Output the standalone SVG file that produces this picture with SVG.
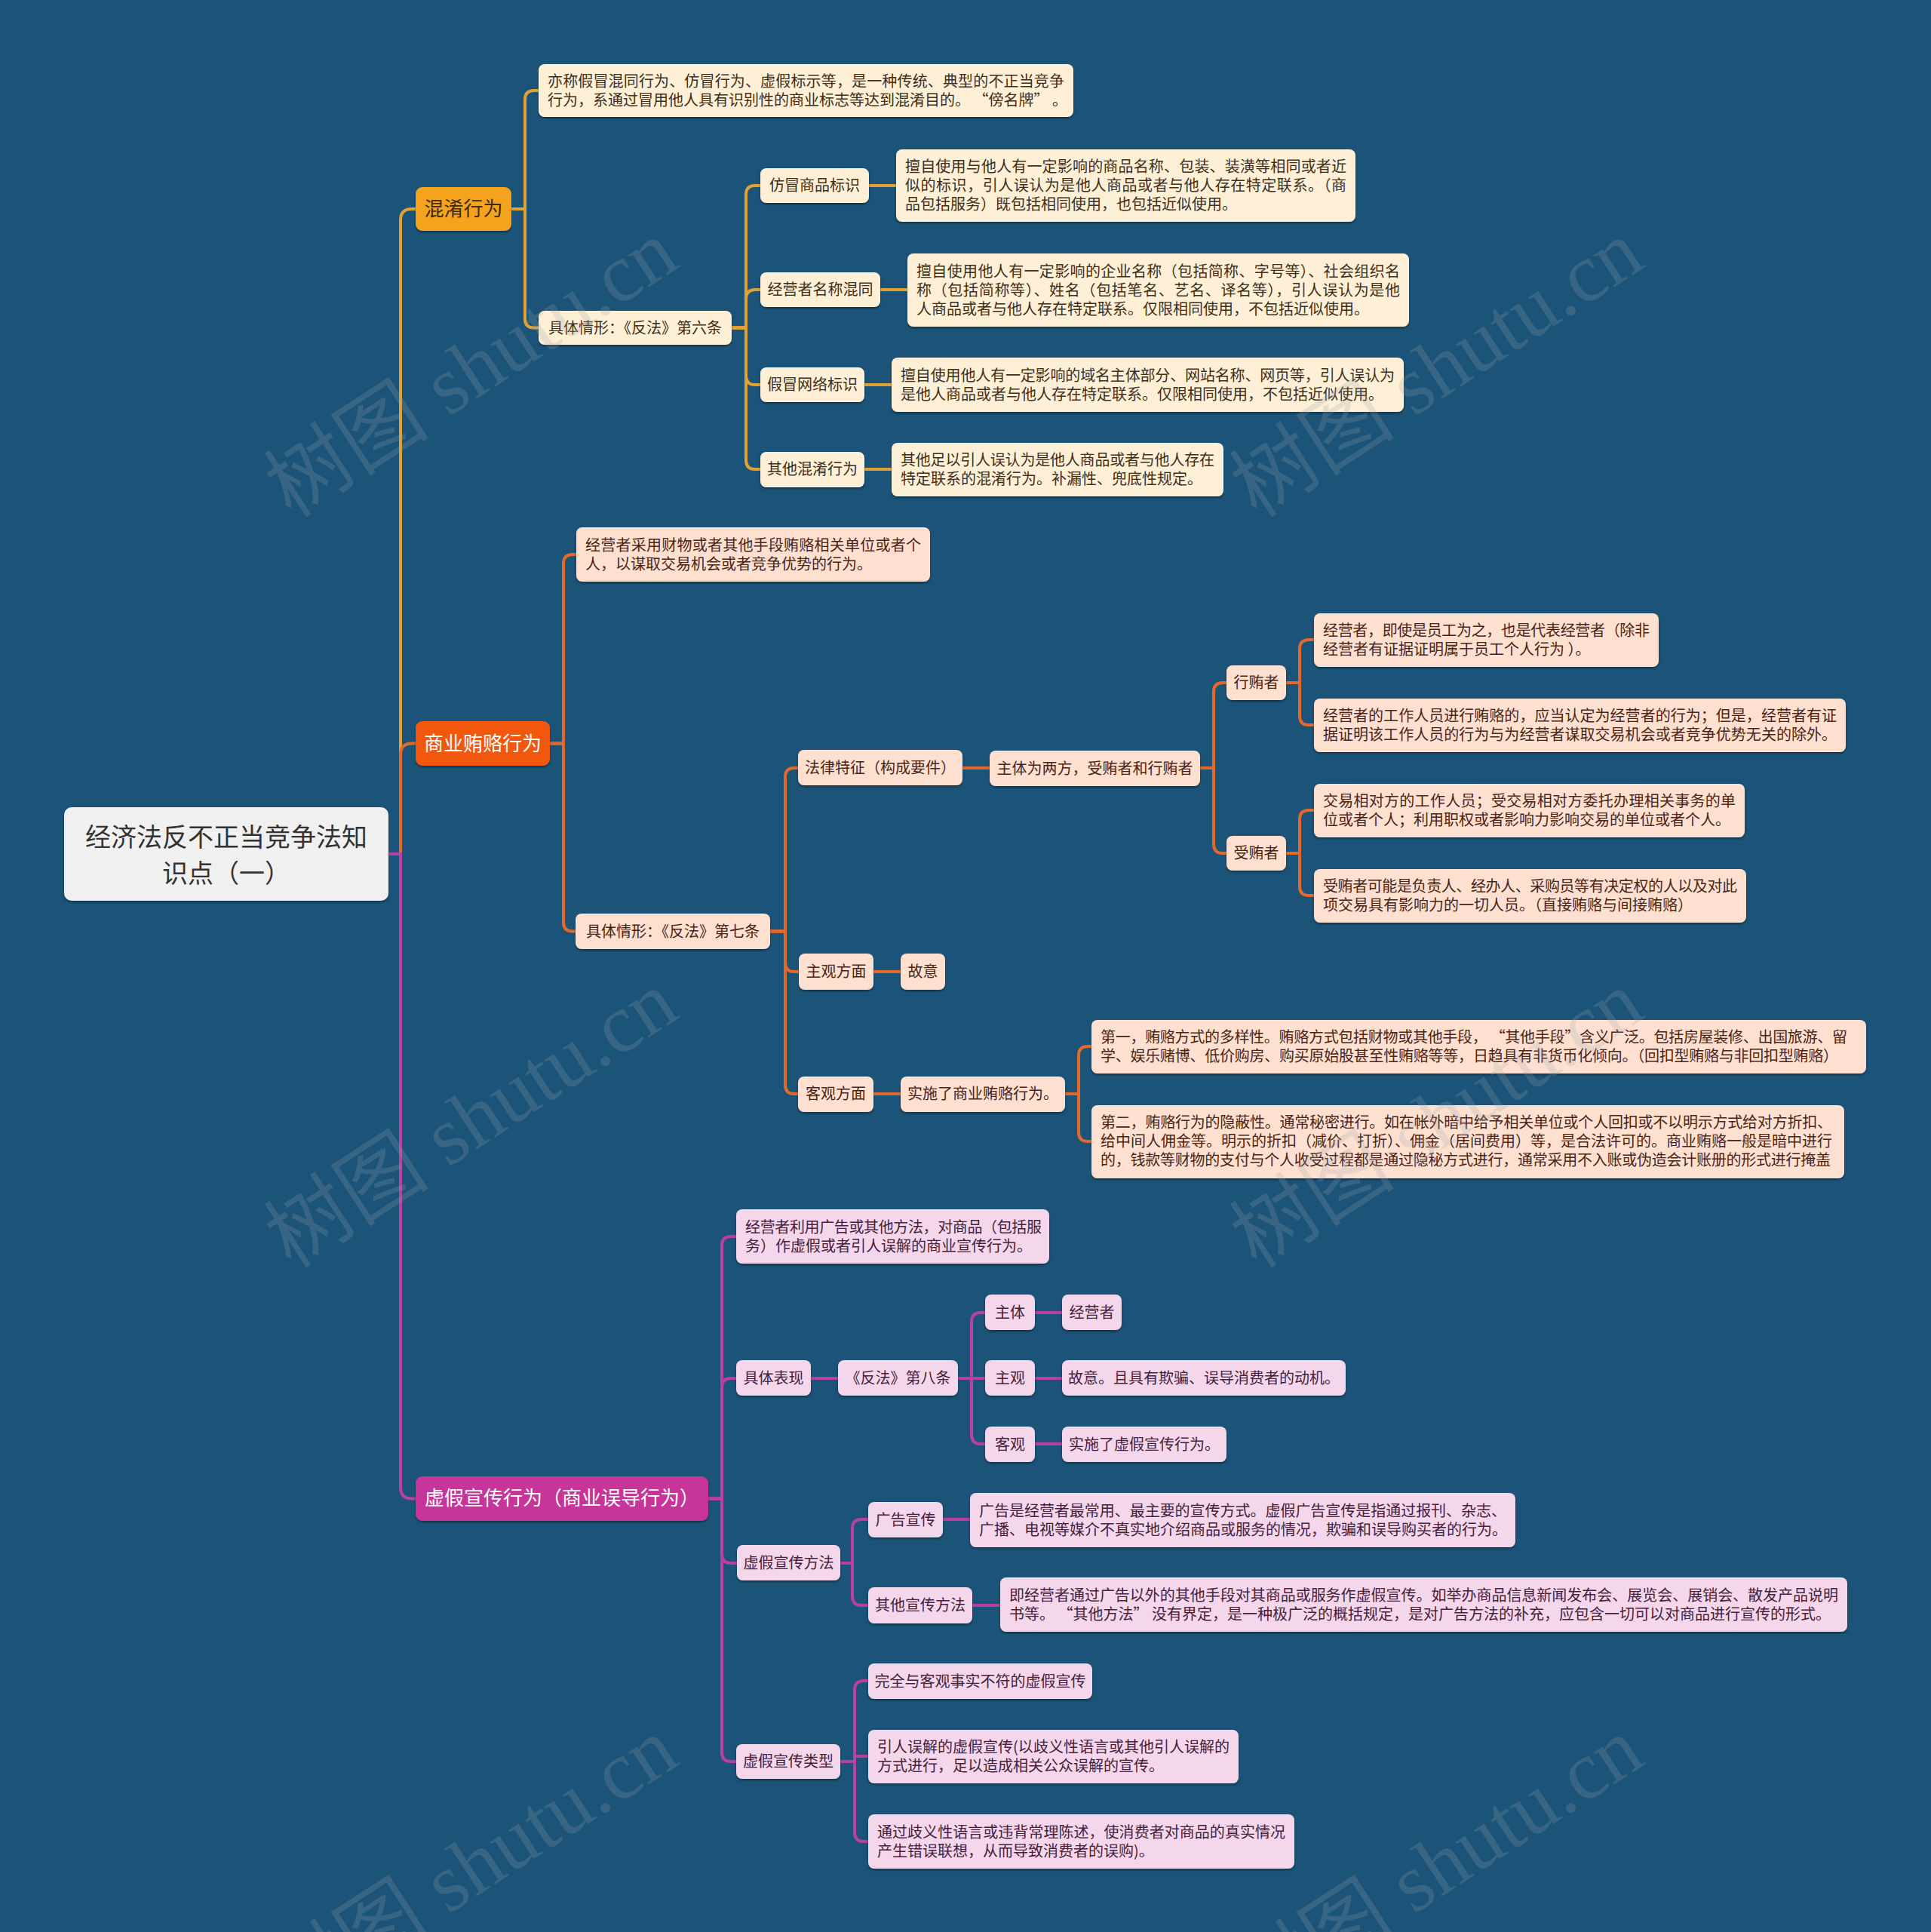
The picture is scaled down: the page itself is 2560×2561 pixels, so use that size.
<svg xmlns="http://www.w3.org/2000/svg" width="2560" height="2561" viewBox="0 0 2560 2561">
<defs>
<filter id="sh" x="-5%" y="-15%" width="110%" height="140%"><feDropShadow dx="0" dy="2" stdDeviation="1.5" flood-color="#000" flood-opacity="0.4"/></filter>
<style>
text{font-family:"Noto Sans CJK SC","Noto Sans",sans-serif;}
.n rect{filter:url(#sh);}
.t{font-size:20px;}
.m{text-anchor:middle;}
.y rect{fill:#fdf0d6;} .y text{fill:#3f2e1a;}
.o rect{fill:#fde0cf;} .o text{fill:#4a2417;}
.p rect{fill:#f4d7ea;} .p text{fill:#46203c;}
.conn path{fill:none;stroke-width:4;stroke-linecap:round;}
.cy{stroke:#e2a233;} .co{stroke:#e2692b;} .cp{stroke:#b8409f;}
.main{font-size:26px;}
.wm text{font-family:"Liberation Serif","Noto Sans CJK SC",serif;font-size:110px;fill:#9aa3ab;fill-opacity:0.22;text-anchor:middle;}
</style>
</defs>
<rect width="2560" height="2561" fill="#1b5478"/>

<g id="connectors" class="conn">
<g class="cy">
<path d="M515 1132 H531 V292 Q531 277 546 277 H551" stroke-width="5"/>
<path d="M678 277 H696 V132 Q696 120 708 120 H714"/>
<path d="M678 277 H696 V422.5 Q696 434.5 708 434.5 H714"/>
<path d="M970 434.5 H989 V258 Q989 246 1001 246 H1008"/>
<path d="M970 434.5 H989 V396 Q989 384 1001 384 H1008"/>
<path d="M970 434.5 H989 V498 Q989 510 1001 510 H1008"/>
<path d="M970 434.5 H989 V610 Q989 622 1001 622 H1008"/>
<path d="M1152 246 H1188"/>
<path d="M1167 384 H1203"/>
<path d="M1146 510 H1182"/>
<path d="M1146 622 H1182"/>
</g>
<g class="co">
<path d="M515 1132 H531 V1000.5 Q531 985.5 546 985.5 H551" stroke-width="5"/>
<path d="M729 985.5 H747 V747 Q747 735 759 735 H764"/>
<path d="M729 985.5 H747 V1222.5 Q747 1234.5 759 1234.5 H763"/>
<path d="M1021 1234.5 H1041 V1030 Q1041 1018 1053 1018 H1058"/>
<path d="M1021 1234.5 H1041 V1276 Q1041 1288 1053 1288 H1059"/>
<path d="M1021 1234.5 H1041 V1438 Q1041 1450 1053 1450 H1058"/>
<path d="M1276 1018 H1312"/>
<path d="M1591 1018 H1609 V917 Q1609 905 1621 905 H1626"/>
<path d="M1591 1018 H1609 V1119 Q1609 1131 1621 1131 H1626"/>
<path d="M1705 905 H1723 V860 Q1723 848 1735 848 H1742"/>
<path d="M1705 905 H1723 V949 Q1723 961 1735 961 H1742"/>
<path d="M1705 1131 H1723 V1086 Q1723 1074 1735 1074 H1742"/>
<path d="M1705 1131 H1723 V1175 Q1723 1187 1735 1187 H1742"/>
<path d="M1158 1288 H1194"/>
<path d="M1158 1450 H1194"/>
<path d="M1412 1450 H1430 V1399 Q1430 1387 1442 1387 H1447"/>
<path d="M1412 1450 H1430 V1501 Q1430 1513 1442 1513 H1447"/>
</g>
<g class="cp">
<path d="M515 1132 H531 V1971.5 Q531 1986.5 546 1986.5 H551" stroke-width="5"/>
<path d="M939 1986.5 H957 V1651 Q957 1639 969 1639 H976"/>
<path d="M939 1986.5 H957 V1839 Q957 1827 969 1827 H976"/>
<path d="M939 1986.5 H957 V2060 Q957 2072 969 2072 H977"/>
<path d="M939 1986.5 H957 V2323 Q957 2335 969 2335 H976"/>
<path d="M1075 1827 H1111"/>
<path d="M1270 1827 H1288 V1752 Q1288 1740 1300 1740 H1306"/>
<path d="M1270 1827 H1306"/>
<path d="M1270 1827 H1288 V1902 Q1288 1914 1300 1914 H1306"/>
<path d="M1372 1740 H1408"/>
<path d="M1372 1827 H1408"/>
<path d="M1372 1914 H1408"/>
<path d="M1114 2072 H1130 V2026 Q1130 2014 1142 2014 H1151"/>
<path d="M1114 2072 H1130 V2116 Q1130 2128 1142 2128 H1151"/>
<path d="M1250 2014 H1286"/>
<path d="M1289 2128 H1326"/>
<path d="M1114 2335 H1133 V2240 Q1133 2228 1145 2228 H1151"/>
<path d="M1114 2335 H1133 V2328 H1151"/>
<path d="M1114 2335 H1133 V2429 Q1133 2441 1145 2441 H1151"/>
</g>
</g>

<g id="root" class="n"><rect x="85" y="1070" width="430" height="124" rx="10" fill="#f0f0f0"/>
<text x="300" y="1122" font-size="34" text-anchor="middle" fill="#333">经济法反不正当竞争法知</text>
<text x="300" y="1170" font-size="34" text-anchor="middle" fill="#333">识点（一）</text></g>

<g id="m1" class="n"><rect x="551" y="248" width="127" height="58" rx="9" fill="#f5a31f"/><text class="main m" x="614.5" y="286" fill="#3b2a10">混淆行为</text></g>
<g id="m2" class="n"><rect x="551" y="956" width="178" height="59" rx="9" fill="#f2590c"/><text class="main m" x="640" y="995" fill="#fff">商业贿赂行为</text></g>
<g id="m3" class="n"><rect x="551" y="1957" width="388" height="59" rx="9" fill="#c8369a"/><text class="main m" x="745" y="1995" fill="#fff">虚假宣传行为（商业误导行为）</text></g>

<g class="y t">
<g id="a1" class="n"><rect x="714" y="85" width="709" height="70" rx="8"/>
<text x="726" y="114.5" textLength="685">亦称假冒混同行为、仿冒行为、虚假标示等，是一种传统、典型的不正当竞争</text>
<text x="726" y="139.5">行为，系通过冒用他人具有识别性的商业标志等达到混淆目的。 “傍名牌” 。</text></g>
<g id="a2" class="n"><rect x="714" y="412" width="256" height="45" rx="8"/><text class="m" x="842" y="441.5">具体情形：《反法》第六条</text></g>
<g id="b1" class="n"><rect x="1008" y="223" width="144" height="46" rx="8"/><text class="m" x="1080" y="253">仿冒商品标识</text></g>
<g id="b1c" class="n"><rect x="1188" y="198" width="609" height="96" rx="8"/>
<text x="1200" y="228" textLength="585">擅自使用与他人有一定影响的商品名称、包装、装潢等相同或者近</text>
<text x="1200" y="253" textLength="585">似的标识，引人误认为是他人商品或者与他人存在特定联系。（商</text>
<text x="1200" y="278">品包括服务）既包括相同使用，也包括近似使用。</text></g>
<g id="b2" class="n"><rect x="1008" y="361" width="159" height="46" rx="8"/><text class="m" x="1087.5" y="391">经营者名称混同</text></g>
<g id="b2c" class="n"><rect x="1203" y="336" width="665" height="97" rx="8"/>
<text x="1215" y="366.5" textLength="641">擅自使用他人有一定影响的企业名称（包括简称、字号等）、社会组织名</text>
<text x="1215" y="391.5" textLength="641">称（包括简称等）、姓名（包括笔名、艺名、译名等），引人误认为是他</text>
<text x="1215" y="416.5">人商品或者与他人存在特定联系。仅限相同使用，不包括近似使用。</text></g>
<g id="b3" class="n"><rect x="1008" y="487" width="138" height="46" rx="8"/><text class="m" x="1077" y="517">假冒网络标识</text></g>
<g id="b3c" class="n"><rect x="1182" y="474" width="679" height="72" rx="8"/>
<text x="1194" y="504.5" textLength="655">擅自使用他人有一定影响的域名主体部分、网站名称、网页等，引人误认为</text>
<text x="1194" y="529.5">是他人商品或者与他人存在特定联系。仅限相同使用，不包括近似使用。</text></g>
<g id="b4" class="n"><rect x="1008" y="599" width="138" height="47" rx="8"/><text class="m" x="1077" y="629">其他混淆行为</text></g>
<g id="b4c" class="n"><rect x="1182" y="587" width="440" height="71" rx="8"/>
<text x="1194" y="617" textLength="416">其他足以引人误认为是他人商品或者与他人存在</text>
<text x="1194" y="642">特定联系的混淆行为。补漏性、兜底性规定。</text></g>
</g>

<g class="o t">
<g id="c1" class="n"><rect x="764" y="699" width="469" height="72" rx="8"/>
<text x="776" y="729.5" textLength="445">经营者采用财物或者其他手段贿赂相关单位或者个</text>
<text x="776" y="754.5">人，以谋取交易机会或者竞争优势的行为。</text></g>
<g id="c2" class="n"><rect x="763" y="1211" width="258" height="47" rx="8"/><text class="m" x="892" y="1241.5">具体情形：《反法》第七条</text></g>
<g id="d1" class="n"><rect x="1058" y="994" width="218" height="47" rx="8"/><text class="m" x="1167" y="1025">法律特征（构成要件）</text></g>
<g id="d1c" class="n"><rect x="1312" y="995" width="279" height="47" rx="8"/><text class="m" x="1451.5" y="1025.5">主体为两方，受贿者和行贿者</text></g>
<g id="e1" class="n"><rect x="1626" y="882" width="79" height="46" rx="8"/><text class="m" x="1665.5" y="912">行贿者</text></g>
<g id="e1a" class="n"><rect x="1742" y="813" width="457" height="71" rx="8"/>
<text x="1754" y="843" textLength="433">经营者，即使是员工为之，也是代表经营者（除非</text>
<text x="1754" y="868">经营者有证据证明属于员工个人行为 ）。</text></g>
<g id="e1b" class="n"><rect x="1742" y="926" width="705" height="71" rx="8"/>
<text x="1754" y="956" textLength="681">经营者的工作人员进行贿赂的，应当认定为经营者的行为；但是，经营者有证</text>
<text x="1754" y="981" textLength="681">据证明该工作人员的行为与为经营者谋取交易机会或者竞争优势无关的除外。</text></g>
<g id="e2" class="n"><rect x="1626" y="1108" width="79" height="46" rx="8"/><text class="m" x="1665.5" y="1138">受贿者</text></g>
<g id="e2a" class="n"><rect x="1742" y="1039" width="571" height="71" rx="8"/>
<text x="1754" y="1069" textLength="547">交易相对方的工作人员；受交易相对方委托办理相关事务的单</text>
<text x="1754" y="1094">位或者个人；利用职权或者影响力影响交易的单位或者个人。</text></g>
<g id="e2b" class="n"><rect x="1742" y="1152" width="573" height="71" rx="8"/>
<text x="1754" y="1182" textLength="549">受贿者可能是负责人、经办人、采购员等有决定权的人以及对此</text>
<text x="1754" y="1207">项交易具有影响力的一切人员。（直接贿赂与间接贿赂）</text></g>
<g id="d2" class="n"><rect x="1059" y="1264" width="99" height="48" rx="8"/><text class="m" x="1108.5" y="1295">主观方面</text></g>
<g id="d2c" class="n"><rect x="1194" y="1264" width="59" height="48" rx="8"/><text class="m" x="1223.5" y="1295">故意</text></g>
<g id="d3" class="n"><rect x="1058" y="1427" width="100" height="47" rx="8"/><text class="m" x="1108" y="1457">客观方面</text></g>
<g id="d3c" class="n"><rect x="1194" y="1427" width="218" height="47" rx="8"/><text class="m" x="1303" y="1457">实施了商业贿赂行为。</text></g>
<g id="f1" class="n"><rect x="1447" y="1352" width="1027" height="71" rx="8"/>
<text x="1459" y="1382" textLength="990">第一，贿赂方式的多样性。贿赂方式包括财物或其他手段，  “其他手段”含义广泛。包括房屋装修、出国旅游、留</text>
<text x="1459" y="1407" textLength="978">学、娱乐赌博、低价购房、购买原始股甚至性贿赂等等，日趋具有非货币化倾向。（回扣型贿赂与非回扣型贿赂）</text></g>
<g id="f2" class="n"><rect x="1447" y="1465" width="998" height="97" rx="8"/>
<text x="1459" y="1495" textLength="970">第二，贿赂行为的隐蔽性。通常秘密进行。如在帐外暗中给予相关单位或个人回扣或不以明示方式给对方折扣、</text>
<text x="1459" y="1520" textLength="970">给中间人佣金等。明示的折扣（减价、打折）、佣金（居间费用）等，是合法许可的。商业贿赂一般是暗中进行</text>
<text x="1459" y="1545" textLength="968">的，钱款等财物的支付与个人收受过程都是通过隐秘方式进行，通常采用不入账或伪造会计账册的形式进行掩盖</text></g>
</g>

<g class="p t">
<g id="g1" class="n"><rect x="976" y="1603" width="415" height="72" rx="8"/>
<text x="988" y="1633.5" textLength="393">经营者利用广告或其他方法，对商品（包括服</text>
<text x="988" y="1658.5">务）作虚假或者引人误解的商业宣传行为。</text></g>
<g id="g2" class="n"><rect x="976" y="1803" width="99" height="47" rx="8"/><text class="m" x="1025.5" y="1834">具体表现</text></g>
<g id="g2c" class="n"><rect x="1111" y="1803" width="159" height="47" rx="8"/><text class="m" x="1190.5" y="1834">《反法》第八条</text></g>
<g id="h1" class="n"><rect x="1306" y="1716" width="66" height="47" rx="8"/><text class="m" x="1339" y="1747">主体</text></g>
<g id="h1c" class="n"><rect x="1408" y="1716" width="79" height="47" rx="8"/><text class="m" x="1447.5" y="1747">经营者</text></g>
<g id="h2" class="n"><rect x="1306" y="1803" width="66" height="47" rx="8"/><text class="m" x="1339" y="1834">主观</text></g>
<g id="h2c" class="n"><rect x="1408" y="1803" width="376" height="47" rx="8"/><text class="m" x="1596" y="1834">故意。且具有欺骗、误导消费者的动机。</text></g>
<g id="h3" class="n"><rect x="1306" y="1891" width="66" height="47" rx="8"/><text class="m" x="1339" y="1921.5">客观</text></g>
<g id="h3c" class="n"><rect x="1408" y="1891" width="218" height="47" rx="8"/><text class="m" x="1517" y="1921.5">实施了虚假宣传行为。</text></g>
<g id="g3" class="n"><rect x="977" y="2048" width="137" height="47" rx="8"/><text class="m" x="1045.5" y="2079">虚假宣传方法</text></g>
<g id="i1" class="n"><rect x="1151" y="1991" width="99" height="47" rx="8"/><text class="m" x="1200.5" y="2021.5">广告宣传</text></g>
<g id="i1c" class="n"><rect x="1286" y="1979" width="723" height="72" rx="8"/>
<text x="1298" y="2009.5" textLength="699">广告是经营者最常用、最主要的宣传方式。虚假广告宣传是指通过报刊、杂志、</text>
<text x="1298" y="2034.5">广播、电视等媒介不真实地介绍商品或服务的情况，欺骗和误导购买者的行为。</text></g>
<g id="i2" class="n"><rect x="1151" y="2104" width="138" height="48" rx="8"/><text class="m" x="1220" y="2135">其他宣传方法</text></g>
<g id="i2c" class="n"><rect x="1326" y="2091" width="1123" height="72" rx="8"/>
<text x="1338" y="2121.5" textLength="1099">即经营者通过广告以外的其他手段对其商品或服务作虚假宣传。如举办商品信息新闻发布会、展览会、展销会、散发产品说明</text>
<text x="1338" y="2146.5">书等。  “其他方法” 没有界定，是一种极广泛的概括规定，是对广告方法的补充，应包含一切可以对商品进行宣传的形式。</text></g>
<g id="g4" class="n"><rect x="976" y="2312" width="138" height="46" rx="8"/><text class="m" x="1045" y="2342">虚假宣传类型</text></g>
<g id="j1" class="n"><rect x="1151" y="2205" width="297" height="47" rx="8"/><text class="m" x="1299.5" y="2235.5">完全与客观事实不符的虚假宣传</text></g>
<g id="j2" class="n"><rect x="1151" y="2293" width="491" height="71" rx="8"/>
<text x="1163" y="2322.5" textLength="467">引人误解的虚假宣传(以歧义性语言或其他引人误解的</text>
<text x="1163" y="2347.5">方式进行，足以造成相关公众误解的宣传。</text></g>
<g id="j3" class="n"><rect x="1151" y="2405" width="565" height="72" rx="8"/>
<text x="1163" y="2435.5" textLength="541">通过歧义性语言或违背常理陈述，使消费者对商品的真实情况</text>
<text x="1163" y="2460.5">产生错误联想，从而导致消费者的误购)。</text></g>
</g>

<g class="wm">
<text transform="translate(645,520) rotate(-33)">树图 shutu.cn</text>
<text transform="translate(1925,520) rotate(-33)">树图 shutu.cn</text>
<text transform="translate(645,1515) rotate(-33)">树图 shutu.cn</text>
<text transform="translate(1925,1515) rotate(-33)">树图 shutu.cn</text>
<text transform="translate(645,2505) rotate(-33)">树图 shutu.cn</text>
<text transform="translate(1925,2505) rotate(-33)">树图 shutu.cn</text>
</g>
</svg>
